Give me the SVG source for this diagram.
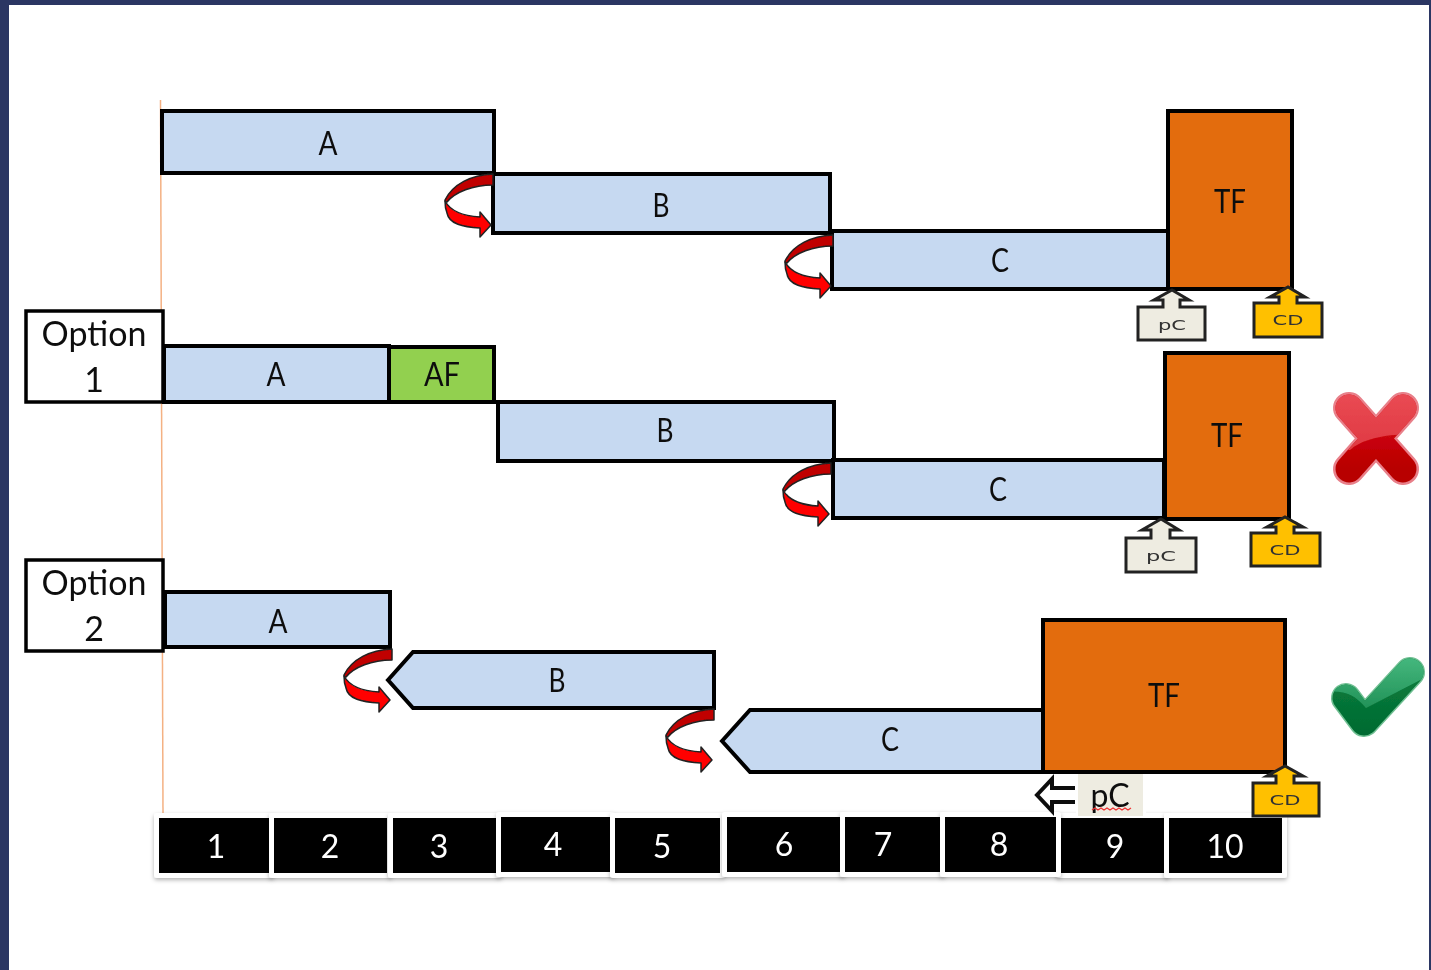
<svg xmlns="http://www.w3.org/2000/svg" width="1431" height="970" viewBox="0 0 1431 970">
<style>
text{font-family:Lato,"Liberation Sans",sans-serif;text-anchor:middle;fill:#111}
.t{font-size:33px}
.opt{font-size:34px}
.box{fill:#c6d9f1;stroke:#000;stroke-width:4}
.tf{fill:#e36c0a;stroke:#000;stroke-width:4}
.af{fill:#92d050;stroke:#000;stroke-width:4}
.lbl{fill:#fff;stroke:#000;stroke-width:3.500}
.pc{fill:#eeece1;stroke:#222;stroke-width:3}
.cd{fill:#ffc000;stroke:#222;stroke-width:3}
.small{font-family:"DejaVu Sans",sans-serif;font-size:14px;fill:#333}
.frame{fill:#fff;filter:url(#sh)}
.num{fill:#fff;font-size:32px}
</style>
<defs>
<filter id="sh" x="-10%" y="-10%" width="120%" height="125%"><feDropShadow dx="0" dy="2" stdDeviation="2" flood-color="#000" flood-opacity="0.3"/></filter>
<filter id="soft" filterUnits="userSpaceOnUse" x="0" y="0" width="1431" height="970"><feGaussianBlur stdDeviation="0.600"/></filter>
<g id="curve" stroke="#222" stroke-width="1.500" stroke-linejoin="round">
<path d="M0,0C-22,1-40,10-48,26-48,27-47,28-46,28-38,18-20,11 0,11Z" fill="#c00000"/>
<path d="M-48,27C-42,38-30,42-13,43L-13,38-2,51-13,63-13,54C-30,53-44,50-46,39-48,34-48,30-48,27Z" fill="#f00"/>
</g>
<linearGradient id="xg" x1="0" y1="0" x2="0" y2="1"><stop offset="0" stop-color="#d80c14"/><stop offset="1" stop-color="#b80000"/></linearGradient>
<linearGradient id="xl" gradientUnits="userSpaceOnUse" x1="0" y1="392" x2="0" y2="450"><stop offset="0" stop-color="#ea4a54"/><stop offset="1" stop-color="#df3a42"/></linearGradient>
<linearGradient id="vg" gradientUnits="userSpaceOnUse" x1="0" y1="680" x2="0" y2="736"><stop offset="0" stop-color="#0a7a3c"/><stop offset="1" stop-color="#006a30"/></linearGradient>
<linearGradient id="vl" gradientUnits="userSpaceOnUse" x1="0" y1="657" x2="0" y2="712"><stop offset="0" stop-color="#45b87e"/><stop offset="1" stop-color="#1f8f55"/></linearGradient>
<clipPath id="xclip"><path d="M1325,385H1425V434L1393,435C1375,437 1360,441 1350,450H1325Z"/></clipPath>
<clipPath id="vclip"><path d="M1325,650H1430V675L1366,708C1355,695 1345,690 1325,692Z"/></clipPath>
</defs>
<rect width="1431" height="970" fill="#2b3663"/>
<rect x="9" y="5" width="1420" height="965" fill="#fff"/>
<g filter="url(#soft)">
<path d="M160.500,100L163,814" stroke="#f4b183" stroke-width="1.500" fill="none"/>

<g id="row1-a"><rect class="box" x="162" y="111" width="332" height="62"/><text class="t" x="328" y="155" textLength="19" lengthAdjust="spacingAndGlyphs">A</text></g>
<g id="row1-b"><rect class="box" x="493" y="174" width="337" height="59"/><text class="t" x="661" y="217" textLength="17" lengthAdjust="spacingAndGlyphs">B</text></g>
<g id="row1-c"><rect class="box" x="832" y="231" width="336" height="58"/><text class="t" x="1000" y="272" textLength="18" lengthAdjust="spacingAndGlyphs">C</text></g>
<g id="row1-tf"><rect class="tf" x="1168" y="111" width="124" height="178"/><text class="t" x="1230" y="213" textLength="32" lengthAdjust="spacingAndGlyphs">TF</text></g>
<g id="row1-pc"><path class="pc" d="M1138,307H1163V300H1154L1172,290 1189,300H1180V307H1205V340H1138Z"/><text class="small" x="1172" y="330" textLength="28" lengthAdjust="spacingAndGlyphs">pC</text></g>
<g id="row1-cd"><path class="cd" d="M1254,303H1279V297H1270L1288,287 1305,297H1297V303H1322V337H1254Z"/><text class="small" x="1288" y="325" textLength="31" lengthAdjust="spacingAndGlyphs">CD</text></g>

<g id="option1"><rect class="lbl" x="26" y="311" width="137" height="91"/><text class="opt" x="94" y="346">Option</text><text class="opt" x="94" y="392">1</text></g>
<g id="row2-a"><rect class="box" x="164" y="346" width="225" height="56"/><text class="t" x="276" y="386" textLength="19" lengthAdjust="spacingAndGlyphs">A</text></g>
<g id="row2-af"><rect class="af" x="389" y="347" width="105" height="55"/><text class="t" x="442" y="386" textLength="36" lengthAdjust="spacingAndGlyphs">AF</text></g>
<g id="row2-b"><rect class="box" x="498" y="402" width="336" height="59"/><text class="t" x="665" y="442" textLength="17" lengthAdjust="spacingAndGlyphs">B</text></g>
<g id="row2-c"><rect class="box" x="833" y="460" width="331" height="58"/><text class="t" x="998" y="501" textLength="18" lengthAdjust="spacingAndGlyphs">C</text></g>
<g id="row2-tf"><rect class="tf" x="1165" y="353" width="124" height="166"/><text class="t" x="1227" y="447" textLength="32" lengthAdjust="spacingAndGlyphs">TF</text></g>
<g id="row2-pc"><path class="pc" d="M1126,538H1151V530H1142L1161,519 1179,530H1170V538H1196V572H1126Z"/><text class="small" x="1161" y="561" textLength="30" lengthAdjust="spacingAndGlyphs">pC</text></g>
<g id="row2-cd"><path class="cd" d="M1251,533H1276V527H1267L1285,517 1303,527H1294V533H1320V566H1251Z"/><text class="small" x="1285" y="555" textLength="31" lengthAdjust="spacingAndGlyphs">CD</text></g>
<g id="fail"><path d="M1349,408L1403,469M1403,408L1349,469" stroke="#e8808a" stroke-width="32" stroke-linecap="round" fill="none"/><path d="M1349,408L1403,469M1403,408L1349,469" stroke="url(#xg)" stroke-width="27" stroke-linecap="round" fill="none"/><g clip-path="url(#xclip)"><path d="M1349,408L1403,469M1403,408L1349,469" stroke="url(#xl)" stroke-width="27" stroke-linecap="round" fill="none"/></g></g>

<g id="option2"><rect class="lbl" x="26" y="560" width="137" height="91"/><text class="opt" x="94" y="595">Option</text><text class="opt" x="94" y="641">2</text></g>
<g id="row3-a"><rect class="box" x="165" y="592" width="225" height="55"/><text class="t" x="278" y="633" textLength="19" lengthAdjust="spacingAndGlyphs">A</text></g>
<g id="row3-b"><path class="box" d="M388,680L413,652H714V708H413Z"/><text class="t" x="557" y="692" textLength="17" lengthAdjust="spacingAndGlyphs">B</text></g>
<g id="row3-c"><path class="box" d="M722,741L750,710H1043V772H750Z"/><text class="t" x="890" y="751" textLength="18" lengthAdjust="spacingAndGlyphs">C</text></g>
<g id="row3-tf"><rect class="tf" x="1043" y="620" width="242" height="152"/><text class="t" x="1164" y="707" textLength="32" lengthAdjust="spacingAndGlyphs">TF</text></g>
<g id="pass"><path d="M1346,698L1364,722L1410,672" stroke="#6fbf92" stroke-width="30" stroke-linecap="round" stroke-linejoin="round" fill="none"/><path d="M1346,698L1364,722L1410,672" stroke="url(#vg)" stroke-width="27" stroke-linecap="round" stroke-linejoin="round" fill="none"/><g clip-path="url(#vclip)"><path d="M1346,698L1364,722L1410,672" stroke="url(#vl)" stroke-width="27" stroke-linecap="round" stroke-linejoin="round" fill="none"/></g></g>

<g id="timeline">
<g id="cell-1"><rect class="frame" x="154" y="813" width="120" height="65" rx="3"/><rect x="159" y="818" width="110" height="55"/><text class="num" x="216" y="858">1</text></g>
<g id="cell-2"><rect class="frame" x="269" y="813" width="123" height="65" rx="3"/><rect x="274" y="818" width="113" height="55"/><text class="num" x="330" y="858">2</text></g>
<g id="cell-3"><rect class="frame" x="388" y="813" width="114" height="65" rx="3"/><rect x="393" y="818" width="104" height="55"/><text class="num" x="439" y="858">3</text></g>
<g id="cell-4"><rect class="frame" x="496" y="812" width="119" height="65" rx="3"/><rect x="501" y="817" width="109" height="55"/><text class="num" x="553" y="856">4</text></g>
<g id="cell-5"><rect class="frame" x="610" y="813" width="115" height="65" rx="3"/><rect x="615" y="818" width="105" height="55"/><text class="num" x="662" y="858">5</text></g>
<g id="cell-6"><rect class="frame" x="722" y="812" width="123" height="65" rx="3"/><rect x="727" y="817" width="113" height="55"/><text class="num" x="784" y="856">6</text></g>
<g id="cell-7"><rect class="frame" x="840" y="812" width="105" height="65" rx="3"/><rect x="845" y="817" width="95" height="55"/><text class="num" x="883" y="856">7</text></g>
<g id="cell-9"><rect class="frame" x="1056" y="813" width="113" height="65" rx="3"/><rect x="1061" y="818" width="103" height="55"/><text class="num" x="1115" y="858">9</text></g>
<g id="cell-8"><rect class="frame" x="940" y="812" width="121" height="65" rx="3"/><rect x="945" y="817" width="111" height="55"/><text class="num" x="999" y="856">8</text></g>
<g id="cell-10"><rect class="frame" x="1164" y="813" width="123" height="65" rx="3"/><rect x="1169" y="818" width="113" height="55"/><text class="num" x="1225" y="858">10</text></g>
</g>

<g id="row3-pc"><rect x="1076" y="774" width="70" height="44" fill="#fff"/><path d="M1075,788H1052V779L1037,795 1052,811V802H1075" fill="#fff" stroke="#111" stroke-width="4"/><rect x="1078" y="774" width="65" height="42" fill="#eeece1"/><text x="1110" y="807" font-size="32">pC</text><path d="M1092,810l3,-2 3,2 3,-2 3,2 3,-2 3,2 3,-2 3,2 3,-2 3,2 3,-2 3,2 3,-2" fill="none" stroke="#e33" stroke-width="1.300"/></g>
<g id="row3-cd"><path class="cd" d="M1253,783H1276V776H1267L1285,766 1303,776H1294V783H1319V816H1253Z"/><text class="small" x="1285" y="805" textLength="31" lengthAdjust="spacingAndGlyphs">CD</text></g>

<g id="connectors">
<use href="#curve" x="493" y="174"/>
<use href="#curve" x="833" y="235"/>
<use href="#curve" x="831" y="463"/>
<use href="#curve" x="392" y="649"/>
<use href="#curve" x="714" y="709"/>
</g>
</g>
</svg>
